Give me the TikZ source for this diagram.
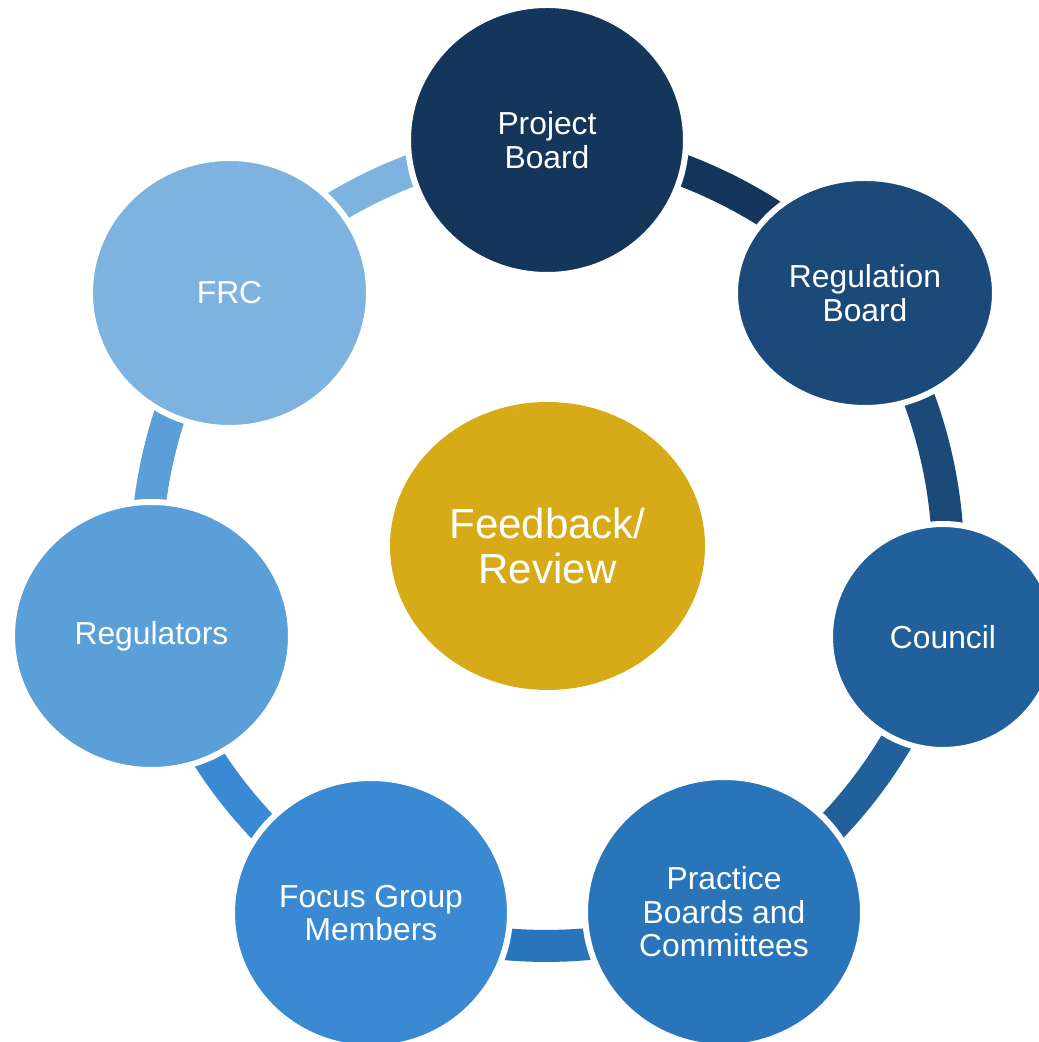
\documentclass[tikz,border=0pt]{standalone}
\usepackage{fontspec}
\setmainfont{Liberation Sans}
\usetikzlibrary{shapes.geometric,backgrounds}

\definecolor{pbblue}{RGB}{20,54,90}
\definecolor{regblue}{RGB}{27,74,122}
\definecolor{councilblue}{RGB}{33,96,155}
\definecolor{practiceblue}{RGB}{42,117,186}
\definecolor{focusblue}{RGB}{58,138,211}
\definecolor{regulatorsblue}{RGB}{90,159,216}
\definecolor{frcblue}{RGB}{126,179,224}
\definecolor{hubgold}{RGB}{215,171,24}

\begin{document}
\begin{tikzpicture}[x=1pt,y=1pt,
  member/.style={ellipse,draw=white,line width=6pt,inner sep=0pt,text=white,align=center,font=\fontsize{31.8}{33.5}\selectfont},
  ringlink/.style={line width=32pt,bend left=21,looseness=0.9}]
\useasboundingbox (0,0) rectangle (1039,1042);
% centre
\node[ellipse,fill=hubgold,inner sep=0pt,minimum width=315pt,minimum height=288pt,text=white,align=center,font=\fontsize{42}{45}\selectfont] (hub) at (547.5,496) {Feedback/\\Review};
% ring members, clockwise from the top
\node[member,fill=pbblue,minimum width=278pt,minimum height=270pt] (project) at (547,902) {Project\\Board};
\node[member,fill=regblue,minimum width=260pt,minimum height=230pt] (regboard) at (865,749) {Regulation\\Board};
\node[member,fill=councilblue,minimum width=226pt,minimum height=226pt] (council) at (943,405) {Council};
\node[member,fill=practiceblue,minimum width=278pt,minimum height=270pt] (practice) at (724,130) {Practice\\Boards and\\Committees};
\node[member,fill=focusblue,minimum width=278pt,minimum height=270pt] (focus) at (371,129) {Focus Group\\Members};
\node[member,fill=regulatorsblue,minimum width=279pt,minimum height=268pt] (regulators) at (151.5,406) {Regulators};
\node[member,fill=frcblue,minimum width=279pt,minimum height=270pt] (frc) at (229.5,749) {FRC};
\begin{pgfonlayer}{background}
\draw[ringlink,draw=pbblue] (project.center) to (regboard.center);
\draw[ringlink,draw=regblue] (regboard.center) to (council.center);
\draw[ringlink,draw=councilblue] (council.center) to (practice.center);
\draw[ringlink,draw=practiceblue] (practice.center) to (focus.center);
\draw[ringlink,draw=focusblue] (focus.center) to (regulators.center);
\draw[ringlink,draw=regulatorsblue] (regulators.center) to (frc.center);
\draw[ringlink,draw=frcblue] (frc.center) to (project.center);
\end{pgfonlayer}
\end{tikzpicture}
\end{document}
